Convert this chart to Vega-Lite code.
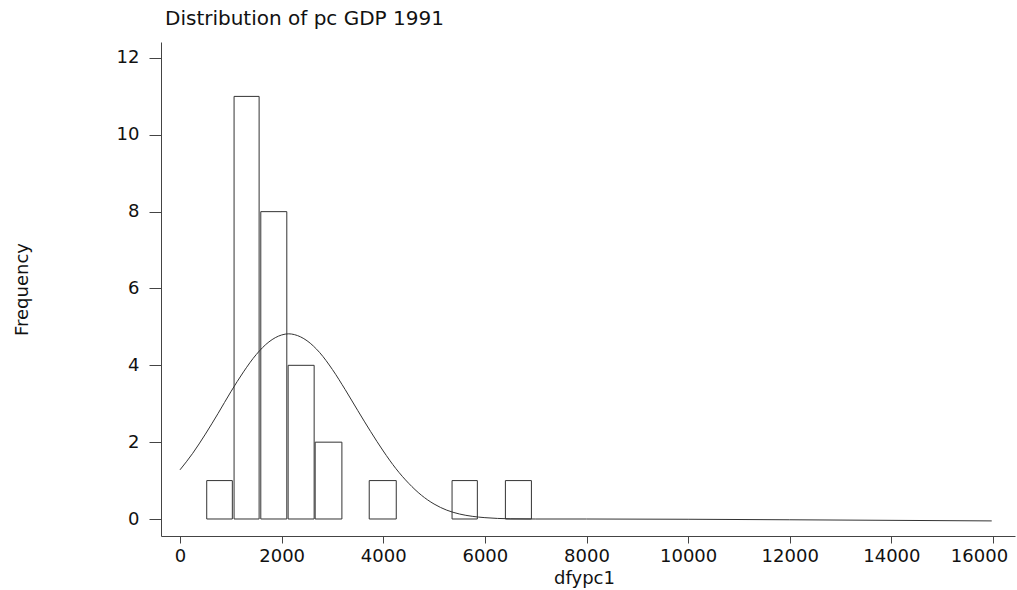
{
  "$schema": "https://vega.github.io/schema/vega-lite/v6.json",
  "width": 854,
  "height": 494,
  "autosize": {"type": "none"},
  "padding": {"left": 161, "top": 42, "right": 2, "bottom": 54},
  "background": "white",
  "config": {
    "view": {"stroke": null},
    "font": "DejaVu Sans",
    "axis": {
      "grid": false,
      "domainColor": "#444",
      "tickColor": "#444",
      "labelColor": "#111",
      "titleColor": "#111",
      "labelFont": "DejaVu Sans",
      "titleFont": "DejaVu Sans",
      "titleFontWeight": "normal",
      "labelFontSize": 18,
      "titleFontSize": 18
    }
  },
  "title": {
    "text": "Distribution of pc GDP 1991",
    "anchor": "start",
    "frame": "group",
    "font": "DejaVu Sans",
    "fontSize": 20,
    "fontWeight": "normal",
    "color": "#111",
    "baseline": "alphabetic",
    "offset": 17,
    "dx": 4,
    "dy": 20
  },
  "datasets": {
    "bars": [
      {"lo": 526, "hi": 1030, "freq": 1},
      {"lo": 1064, "hi": 1557, "freq": 11},
      {"lo": 1590, "hi": 2102, "freq": 8},
      {"lo": 2128, "hi": 2640, "freq": 4},
      {"lo": 2660, "hi": 3186, "freq": 2},
      {"lo": 3724, "hi": 4256, "freq": 1},
      {"lo": 5354, "hi": 5852, "freq": 1},
      {"lo": 6404, "hi": 6916, "freq": 1}
    ],
    "curve": [
      {"x": 0, "dens": 1.28},
      {"x": 250, "dens": 1.71},
      {"x": 500, "dens": 2.21},
      {"x": 750, "dens": 2.75},
      {"x": 1000, "dens": 3.31},
      {"x": 1250, "dens": 3.83},
      {"x": 1500, "dens": 4.28},
      {"x": 1750, "dens": 4.61},
      {"x": 2000, "dens": 4.79},
      {"x": 2140, "dens": 4.82},
      {"x": 2250, "dens": 4.8},
      {"x": 2500, "dens": 4.64},
      {"x": 2750, "dens": 4.33},
      {"x": 3000, "dens": 3.89},
      {"x": 3250, "dens": 3.37},
      {"x": 3500, "dens": 2.82},
      {"x": 3750, "dens": 2.28},
      {"x": 4000, "dens": 1.77},
      {"x": 4250, "dens": 1.31},
      {"x": 4500, "dens": 0.93},
      {"x": 4750, "dens": 0.62},
      {"x": 5000, "dens": 0.39},
      {"x": 5250, "dens": 0.23},
      {"x": 5500, "dens": 0.13},
      {"x": 5750, "dens": 0.07},
      {"x": 6000, "dens": 0.035},
      {"x": 6250, "dens": 0.015},
      {"x": 6500, "dens": 0.005},
      {"x": 7000, "dens": 0.0},
      {"x": 8000, "dens": 0.0},
      {"x": 12000, "dens": -0.02},
      {"x": 15975, "dens": -0.05}
    ]
  },
  "layer": [
    {
      "data": {"name": "bars"},
      "mark": {"type": "rect", "fill": "white", "stroke": "#333", "strokeWidth": 1},
      "encoding": {
        "x": {
          "field": "lo",
          "type": "quantitative",
          "scale": {"domain": [-374, 16433], "nice": false, "zero": false},
          "axis": {
            "values": [0, 2000, 4000, 6000, 8000, 10000, 12000, 14000, 16000],
            "format": "d",
            "tickSize": 7,
            "labelPadding": 4,
            "labelOffset": {"condition": {"test": "datum.value == 16000", "value": -14}, "value": 0},
            "title": "dfypc1",
            "titleX": 423,
            "titleY": 47,
            "titleBaseline": "alphabetic",
            "titleAnchor": null
          }
        },
        "x2": {"field": "hi"},
        "y": {
          "field": "freq",
          "type": "quantitative",
          "scale": {"domain": [-0.4425, 12.416], "nice": false, "zero": false},
          "axis": {
            "values": [0, 2, 4, 6, 8, 10, 12],
            "tickSize": 12,
            "labelPadding": 10,
            "title": "Frequency",
            "titleAngle": 270,
            "titleX": -139,
            "titleY": 247,
            "titleAlign": "center",
            "titleBaseline": "middle"
          }
        },
        "y2": {"datum": 0}
      }
    },
    {
      "data": {"name": "curve"},
      "mark": {"type": "line", "color": "#333", "strokeWidth": 1, "interpolate": "monotone"},
      "encoding": {
        "x": {"field": "x", "type": "quantitative"},
        "y": {"field": "dens", "type": "quantitative"}
      }
    }
  ]
}
